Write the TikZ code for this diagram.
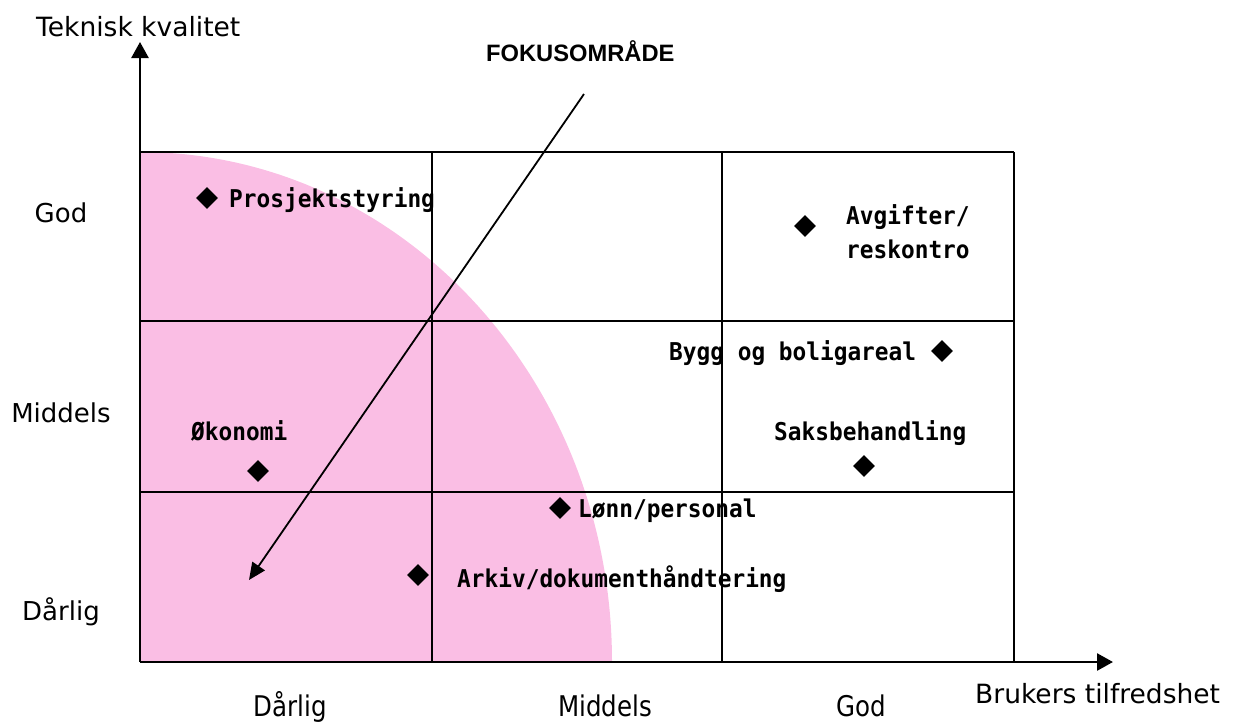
\documentclass[tikz,border=0pt]{standalone}
\usepackage{fontspec}
\setmainfont{DejaVu Sans}
\newfontfamily\itemfont[FakeStretch=0.93]{DejaVu Sans Mono}
\newfontfamily\headfont{Liberation Sans}
\newfontfamily\narrowfont[FakeStretch=0.86]{DejaVu Sans}
\usetikzlibrary{arrows.meta,shapes.geometric}
\definecolor{pinkfill}{RGB}{250,190,228}
\tikzset{
  gridline/.style={line width=2.5pt,black},
  thingrid/.style={line width=2pt,black},
  axisline/.style={line width=2.5pt,black,-{Triangle[length=16pt,width=17pt]}},
  focusline/.style={line width=1.8pt,black,-{Triangle[length=17pt,width=15pt]}},
  gem/.style={diamond,fill=black,inner sep=0pt,minimum width=22pt,minimum height=22pt},
  itemlabel/.style={anchor=base west,inner sep=0pt,font=\itemfont\bfseries\fontsize{24.5}{28}\selectfont},
  levellabel/.style={anchor=base,inner sep=0pt,font=\fontsize{26}{30}\selectfont},
  bottomlabel/.style={anchor=base,inner sep=0pt,font=\narrowfont\fontsize{28.5}{32}\selectfont},
}
\begin{document}
\begin{tikzpicture}[x=1pt,y=-1pt]
\useasboundingbox (0,0) rectangle (1234,724);

% focus region: quarter ellipse in the lower left
\fill[pinkfill] (140,662) -- (612,662)
  arc[start angle=0,end angle=90,x radius=472pt,y radius=510pt] -- cycle;

% 3x3 grid
\draw[gridline] (140,152) -- (1014,152);
\draw[gridline] (140,321) -- (1014,321);
\draw[gridline] (140,492) -- (1014,492);
\draw[gridline] (140,662) -- (1014,662);
\draw[gridline] (432,152) -- (432,662);
\draw[thingrid] (722,152) -- (722,662);
\draw[gridline] (1014,152) -- (1014,662);

% axes
\coordinate (O) at (140,662);
\coordinate (ytip) at (140,42);
\coordinate (xtip) at (1113,662);
\draw[axisline] (O) -- (ytip);
\draw[axisline] (O) -- (xtip);

\node[anchor=base west,inner sep=0pt,font=\fontsize{26.5}{30}\selectfont] (ylab) at (36,36) {Teknisk kvalitet};
\node[anchor=base west,inner sep=0pt,font=\fontsize{26.5}{30}\selectfont] (xlab) at (975,703) {Brukers tilfredshet};

% level labels on the vertical axis
\node[levellabel] (yhigh) at (61,222) {God};
\node[levellabel] (ymid) at (61,422) {Middels};
\node[levellabel] (ylow) at (61,620) {Dårlig};

% level labels on the horizontal axis
\node[bottomlabel] (xlow) at (290,716) {Dårlig};
\node[bottomlabel] (xmid) at (605,716) {Middels};
\node[bottomlabel] (xhigh) at (861,716) {God};

% focus arrow
\node[anchor=base west,inner sep=0pt,font=\headfont\bfseries\fontsize{23.7}{28}\selectfont] (fokus) at (486,61) {FOKUSOMRÅDE};
\coordinate (fstart) at (584,94);
\coordinate (fend) at (249,580);
\draw[focusline] (fstart) -- (fend);

% systems
\node[gem] (d1) at (207,198) {};
\node[itemlabel] (t1) at (229,207) {Prosjektstyring};

\node[gem] (d2) at (805,226) {};
\node[itemlabel] (t2a) at (846,224) {Avgifter/};
\node[itemlabel] (t2b) at (846,258) {reskontro};

\node[gem] (d3) at (942,351) {};
\node[itemlabel] (t3) at (669,360) {Bygg og boligareal};

\node[gem] (d4) at (864,466) {};
\node[itemlabel] (t4) at (774,440) {Saksbehandling};

\node[gem] (d5) at (258,471) {};
\node[itemlabel] (t5) at (191,440) {Økonomi};

\node[gem] (d6) at (560,508) {};
\node[itemlabel] (t6) at (578,517) {Lønn/personal};

\node[gem] (d7) at (418,575) {};
\node[itemlabel] (t7) at (457,587) {Arkiv/dokumenthåndtering};
\end{tikzpicture}
\end{document}
